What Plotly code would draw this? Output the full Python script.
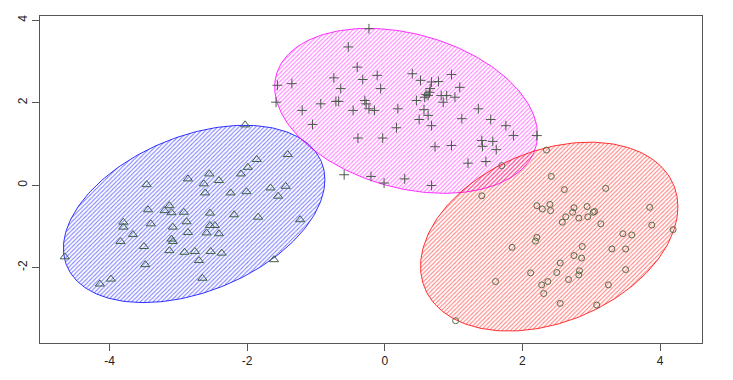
import numpy as np
import plotly.graph_objects as go

# ---- data: cluster 1 (triangles, blue ellipse)
tri_x = [-3.46, -3.44, -3.20, -3.13, -3.10, -2.92, -3.80, -3.80, -3.40, -3.66, -3.08, -3.84, -3.10,
         -3.08, -3.50, -3.13, -2.91, -4.65, -3.48, -3.98, -4.14, -2.03, -1.41, -1.86, -1.99, -2.09,
         -2.55, -2.86, -2.41, -2.63, -2.61, -2.24, -2.01, -1.66, -1.44, -1.55, -2.54, -2.19, -1.84,
         -1.23, -2.88, -2.54, -2.47, -2.86, -2.59, -2.41, -2.76, -2.53, -2.37, -2.70, -1.61, -2.65]
tri_y = [0.01, -0.60, -0.62, -0.50, -0.67, -0.66, -0.90, -1.02, -0.94, -1.20, -1.02, -1.37, -1.31,
         -1.37, -1.49, -1.59, -1.63, -1.74, -1.93, -2.28, -2.40, 1.46, 0.74, 0.62, 0.43, 0.27,
         0.27, 0.15, 0.11, 0.03, -0.19, -0.19, -0.16, -0.07, -0.03, -0.27, -0.68, -0.72, -0.78,
         -0.84, -0.89, -0.98, -0.98, -1.15, -1.16, -1.18, -1.61, -1.61, -1.65, -1.83, -1.81, -2.26]

# ---- cluster 2 (plus signs, magenta ellipse)
plus_x = [-0.23, -0.53, -0.40, -0.74, -0.32, -0.11, -0.06, -0.64, -1.56, -1.35, -1.58, -0.93, -0.71,
          -0.67, -0.29, -0.27, -1.20, -0.46, -0.23, -0.15, 0.19, -1.05, 0.17, -0.39, -0.03, -0.59,
          -0.20, -0.01, 0.40, 0.52, 0.68, 0.78, 0.97, 0.66, 1.09, 0.58, 0.63, 0.46, 0.82, 0.90,
          1.02, 0.85, 0.57, 0.63, 0.50, 0.68, 1.12, 1.36, 1.54, 1.76, 1.87, 2.21, 0.73, 0.97,
          1.41, 1.42, 1.57, 1.62, 1.21, 1.47, 0.29, 0.68, 0.60, 0.65]
plus_y = [3.79, 3.35, 2.86, 2.60, 2.56, 2.66, 2.34, 2.34, 2.42, 2.46, 2.01, 1.97, 2.03,
          2.03, 2.05, 1.97, 1.81, 1.81, 1.85, 1.81, 1.85, 1.47, 1.39, 1.14, 1.14, 0.25,
          0.21, 0.05, 2.70, 2.54, 2.50, 2.51, 2.68, 2.34, 2.37, 2.13, 2.17, 2.05, 2.17, 2.17,
          2.13, 2.01, 1.83, 1.69, 1.59, 1.44, 1.61, 1.85, 1.59, 1.44, 1.20, 1.20, 0.93, 0.96,
          1.08, 0.94, 1.06, 0.86, 0.53, 0.57, 0.15, -0.01, 2.20, 2.25]

# ---- cluster 3 (circles, red ellipse)
circ_x = [2.35, 2.42, 2.61, 3.21, 1.41, 1.70, 2.21, 2.29, 2.40, 2.41, 2.75, 2.73, 2.94, 3.03,
          3.05, 2.63, 2.58, 2.82, 2.95, 3.14, 3.85, 3.88, 4.19, 3.46, 3.59, 2.21, 2.19, 1.85,
          2.87, 3.30, 3.50, 2.75, 2.86, 2.55, 2.12, 2.50, 2.83, 2.82, 2.67, 2.37, 2.28, 2.31,
          1.61, 3.25, 3.50, 2.55, 3.08, 1.03]
circ_y = [0.85, 0.21, -0.11, -0.08, -0.26, 0.47, -0.50, -0.58, -0.47, -0.62, -0.55, -0.66, -0.52, -0.66,
          -0.64, -0.77, -0.90, -0.80, -0.77, -0.94, -0.54, -0.97, -1.08, -1.18, -1.21, -1.27, -1.36, -1.51,
          -1.49, -1.55, -1.55, -1.71, -1.77, -1.89, -2.13, -2.12, -2.08, -2.18, -2.29, -2.34, -2.42, -2.63,
          -2.34, -2.42, -2.05, -2.87, -2.91, -3.29]

# ---- ellipse parameters: centre x, centre y, half-width x, half-height y, correlation
ell_names = ["blue", "magenta", "red"]
ell_cx = [-2.77, 0.31, 2.39]
ell_cy = [-0.70, 1.80, -1.25]
ell_rx = [1.90, 1.91, 1.87]
ell_ry = [2.15, 2.00, 2.29]
ell_r = [0.387, -0.29, 0.315]
ell_colors = ["#0000ff", "#ff00ff", "#ff0000"]

x_ticks = [-4, -2, 0, 2, 4]
y_ticks = [-2, 0, 2, 4]

fig = go.Figure()
t = np.linspace(0, 2 * np.pi, 241)
for cx, cy, rx, ry, r, col in zip(ell_cx, ell_cy, ell_rx, ell_ry, ell_r, ell_colors):
    d = np.arccos(r)
    ex = cx + rx * np.cos(t)
    ey = cy + ry * np.cos(t - d)
    fig.add_trace(go.Scatter(
        x=ex, y=ey, mode="lines", fill="toself",
        line=dict(color=col, width=0.8),
        fillcolor="rgba(0,0,0,0)",
        fillpattern=dict(shape="/", fgcolor=col, size=3, solidity=0.35),
        hoverinfo="skip", showlegend=False))

pt_col = "#3f6248"
fig.add_trace(go.Scatter(x=tri_x, y=tri_y, mode="markers", showlegend=False,
                         marker=dict(symbol="triangle-up-open", size=8, color=pt_col,
                                     line=dict(width=1, color=pt_col))))
fig.add_trace(go.Scatter(x=plus_x, y=plus_y, mode="markers", showlegend=False,
                         marker=dict(symbol="cross-thin-open", size=7, color="#4b5a4b",
                                     line=dict(width=1, color="#4b5a4b"))))
fig.add_trace(go.Scatter(x=circ_x, y=circ_y, mode="markers", showlegend=False,
                         marker=dict(symbol="circle-open", size=6, color="#5d6a45",
                                     line=dict(width=1, color="#5d6a45"))))

axis_common = dict(showgrid=False, zeroline=False, showline=True, mirror=True, automargin=False,
                   linecolor="#555555", linewidth=1, ticks="outside", ticklen=7,
                   tickcolor="#555555", tickwidth=1,
                   tickfont=dict(family="Liberation Sans, Arial", size=12, color="#222222"))
fig.update_layout(
    width=733, height=380,
    margin=dict(l=32, r=39, t=8, b=45),
    paper_bgcolor="white", plot_bgcolor="white",
    xaxis=dict(range=[-5.01, 4.61], tickvals=x_ticks, ticktext=[str(v) for v in x_ticks], **axis_common),
    yaxis=dict(range=[-3.83, 4.10], tickvals=y_ticks, ticktext=[str(v) for v in y_ticks],
               tickangle=-90, **axis_common),
)
fig.write_html("out.html")
